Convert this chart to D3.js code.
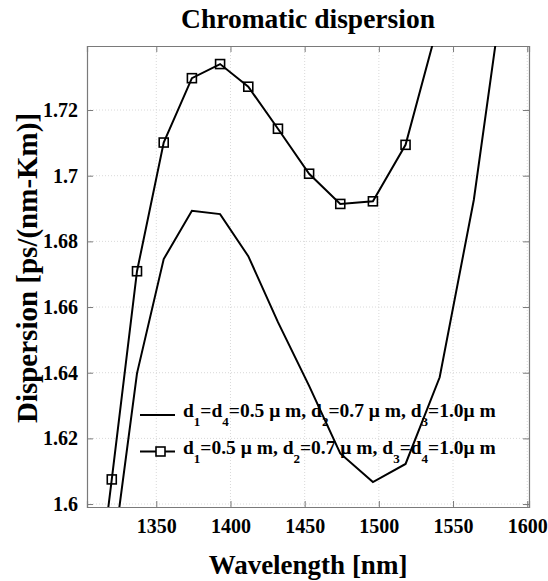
<!DOCTYPE html>
<html>
<head>
<meta charset="utf-8">
<script src="https://cdn.jsdelivr.net/npm/d3@7"></script>
<style>
  body { margin: 0; background: #fff; }
  svg text { font-family: "Liberation Serif", "Times New Roman", "DejaVu Serif", serif; font-weight: bold; fill: #000; }
</style>
</head>
<body>
<script>
// data
const wavelengthA = [1320, 1337, 1355, 1374, 1393, 1412, 1432, 1453, 1474, 1496, 1518, 1541, 1564, 1586];
const dispersionA = [1.5815, 1.6398, 1.6746, 1.6893, 1.6883, 1.6755, 1.6554, 1.636, 1.6154, 1.6067, 1.6122, 1.6386, 1.6926, 1.764];

const wavelengthB = [1300, 1320, 1337, 1355, 1374, 1393, 1412, 1432, 1453, 1474, 1496, 1518, 1541];
const dispersionB = [1.5345, 1.6075, 1.6709, 1.7101, 1.7297, 1.734, 1.7271, 1.7143, 1.7006, 1.6914, 1.6922, 1.7094, 1.748];

const xTicks = [1350, 1400, 1450, 1500, 1550, 1600];
const yTicks = [1.6, 1.62, 1.64, 1.66, 1.68, 1.7, 1.72];

const width = 548;
const height = 581;
const margin = { top: 46, right: 19, bottom: 74, left: 87 };
const iw = width - margin.left - margin.right;
const ih = height - margin.top - margin.bottom;

const svg = d3.select("body").append("svg")
  .attr("width", width).attr("height", height);

const x = d3.scaleLinear().domain([1303.3, 1601.2]).range([0, iw]);
const y = d3.scaleLinear().domain([1.5991, 1.7395]).range([ih, 0]);

const g = svg.append("g").attr("transform", `translate(${margin.left},${margin.top})`);

svg.append("defs").append("clipPath").attr("id", "clip")
  .append("rect").attr("width", iw).attr("height", ih);

// grid
g.append("g").selectAll("line").data(xTicks).join("line")
  .attr("x1", d => x(d)).attr("x2", d => x(d)).attr("y1", 0).attr("y2", ih)
  .attr("stroke", "#d9d9d9").attr("stroke-width", 1).attr("stroke-dasharray", "1,2");
g.append("g").selectAll("line").data(yTicks).join("line")
  .attr("y1", d => y(d)).attr("y2", d => y(d)).attr("x1", 0).attr("x2", iw)
  .attr("stroke", "#d9d9d9").attr("stroke-width", 1).attr("stroke-dasharray", "1,2");

// axes (ticks inward on all four sides)
const axisStyle = sel => {
  sel.attr("font-family", null);
  sel.select(".domain").attr("stroke", "#7a7a7a").attr("stroke-width", 1.2);
  sel.selectAll(".tick line").attr("stroke", "#7a7a7a");
  sel.selectAll("text").attr("font-size", 20).attr("fill", "#000");
};
g.append("g").attr("transform", `translate(0,${ih})`)
  .call(d3.axisBottom(x).tickValues(xTicks).tickSize(-6).tickPadding(12).tickFormat(d3.format("d")))
  .call(axisStyle);
g.append("g")
  .call(d3.axisTop(x).tickValues(xTicks).tickSize(-6).tickFormat(""))
  .call(axisStyle);
g.append("g")
  .call(d3.axisLeft(y).tickValues(yTicks).tickSize(-6).tickPadding(9).tickFormat(d => String(+d.toFixed(2))))
  .call(axisStyle);
g.append("g").attr("transform", `translate(${iw},0)`)
  .call(d3.axisRight(y).tickValues(yTicks).tickSize(-6).tickFormat(""))
  .call(axisStyle);

// lines
const lineA = d3.line().x((d, i) => x(wavelengthA[i])).y(d => y(d));
const lineB = d3.line().x((d, i) => x(wavelengthB[i])).y(d => y(d));
const plot = g.append("g").attr("clip-path", "url(#clip)");
plot.append("path").datum(dispersionA).attr("d", lineA)
  .attr("fill", "none").attr("stroke", "#000").attr("stroke-width", 2);
plot.append("path").datum(dispersionB).attr("d", lineB)
  .attr("fill", "none").attr("stroke", "#000").attr("stroke-width", 2);

const ms = 9;
const markerPts = wavelengthB.map((w, i) => [w, dispersionB[i]])
  .filter(d => y(d[1]) >= 0 && y(d[1]) <= ih && x(d[0]) >= 0);
plot.selectAll(".mk").data(markerPts).join("rect").attr("class", "mk")
  .attr("x", d => x(d[0]) - ms / 2).attr("y", d => y(d[1]) - ms / 2)
  .attr("width", ms).attr("height", ms)
  .attr("fill", "none").attr("stroke", "#000").attr("stroke-width", 1.6);

// title and axis labels
svg.append("text").attr("x", margin.left + iw / 2).attr("y", 28)
  .attr("text-anchor", "middle").attr("font-size", 27.5).text("Chromatic dispersion");
svg.append("text").attr("x", margin.left + iw / 2).attr("y", 574)
  .attr("text-anchor", "middle").attr("font-size", 27).text("Wavelength [nm]");
svg.append("text").attr("transform", "translate(37,268) rotate(-90)")
  .attr("text-anchor", "middle").attr("font-size", 29).text("Dispersion [ps/(nm-Km)]");

// legend
const legend = [
  { parts: [["d", ""], ["1", "s"], ["=d", ""], ["4", "s"], ["=0.5 μ m, d", ""], ["2", "s"], ["=0.7 μ m, d", ""], ["3", "s"], ["=1.0μ m", ""]], marker: false },
  { parts: [["d", ""], ["1", "s"], ["=0.5 μ m, d", ""], ["2", "s"], ["=0.7 μ m, d", ""], ["3", "s"], ["=d", ""], ["4", "s"], ["=1.0μ m", ""]], marker: true }
];
const lg = svg.append("g").attr("transform", "translate(140,415)");
legend.forEach((item, i) => {
  const row = lg.append("g").attr("transform", `translate(0,${i * 36.5})`);
  row.append("line").attr("x1", 0).attr("x2", 35).attr("y1", 0).attr("y2", 0)
    .attr("stroke", "#000").attr("stroke-width", 2);
  if (item.marker) {
    row.append("rect").attr("x", 20.5 - ms / 2).attr("y", -ms / 2).attr("width", ms).attr("height", ms)
      .attr("fill", "#fff").attr("stroke", "#000").attr("stroke-width", 1.6);
  }
  const t = row.append("text").attr("x", 43).attr("y", 2).attr("font-size", 19.5);
  let low = false;
  item.parts.forEach(([s, kind]) => {
    const sub = kind === "s";
    const dy = sub ? (low ? 0 : 9) : (low ? -9 : 0);
    low = sub;
    const ts = t.append("tspan").attr("dy", dy).text(s);
    if (sub) ts.attr("font-size", 13);
  });
});
</script>
</body>
</html>
